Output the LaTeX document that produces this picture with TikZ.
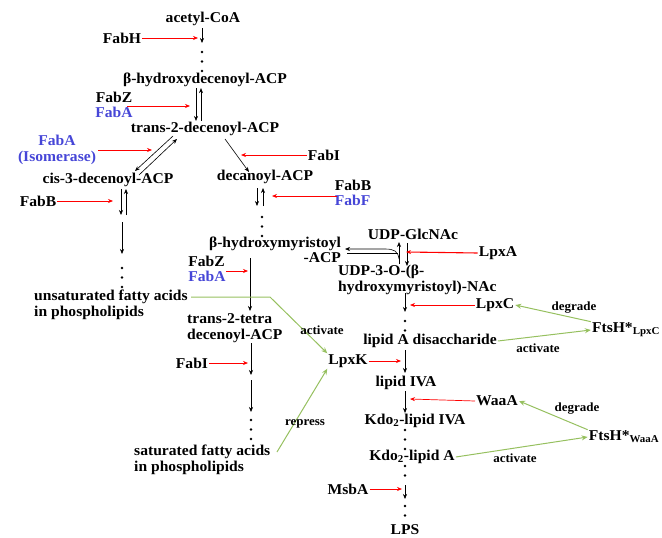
\documentclass[tikz,border=0pt]{standalone}
\usepackage{fontspec}
\setmainfont[FakeStretch=1.04]{Liberation Serif}
\usetikzlibrary{arrows.meta}

\definecolor{enzblue}{RGB}{70,70,215}
\definecolor{regreen}{RGB}{150,192,95}

\tikzstyle{met} = [font=\bfseries\fontsize{15}{15.5}\selectfont, inner sep=1pt]
\tikzstyle{blu} = [met, text=enzblue]
\tikzstyle{lab} = [font=\bfseries\fontsize{12.5}{13}\selectfont, inner sep=1pt]
\tikzstyle{flow} = [-{Stealth[length=5pt,width=4pt]}, line width=0.6pt]
\tikzstyle{cat} = [-{Stealth[length=5pt,width=4pt]}, red, line width=0.7pt]
\tikzstyle{reg} = [-{Stealth[length=6pt,width=5pt]}, regreen, line width=1pt]
\tikzstyle{dots} = [line width=2.6pt, line cap=round, dash pattern=on 0pt off 9.5pt]

\begin{document}
\begin{tikzpicture}[x=1pt,y=-1pt]
\useasboundingbox (0,0) rectangle (662,538);

% metabolites
\node[met] (acoa) at (203,19) {acetyl-CoA};
\node[met] (hdec) at (205,80) {β-hydroxydecenoyl-ACP};
\node[met] (t2dec) at (205,129) {trans-2-decenoyl-ACP};
\node[met] (c3dec) at (108,180) {cis-3-decenoyl-ACP};
\node[met] (decan) at (265,177) {decanoyl-ACP};
\node[met, align=right] (hmyr) at (275,250) {β-hydroxymyristoyl\\-ACP};
\node[met, align=left, anchor=west] (ufa) at (33,305) {unsaturated fatty acids\\in phospholipids};
\node[met, align=left, anchor=west] (t2tet) at (186,328) {trans-2-tetra\\decenoyl-ACP};
\node[met, align=left, anchor=west] (sfa) at (133,460) {saturated fatty acids\\in phospholipids};
\node[met] (udp) at (413,234) {UDP-GlcNAc};
\node[met, align=left, anchor=west] (udp3) at (337,280) {UDP-3-O-(β-\\hydroxymyristoyl)-NAc};
\node[met] (lad) at (430,341) {lipid A disaccharide};
\node[met] (liva) at (406,383) {lipid IVA};
\node[met] (kiva) at (415,421) {Kdo\textsubscript{2}-lipid IVA};
\node[met] (kla) at (412,457) {Kdo\textsubscript{2}-lipid A};
\node[met] (lps) at (405,530) {LPS};

% enzymes
\node[met] (fabh) at (122,38) {FabH};
\node[met, align=center] (fabza) at (114,105) {FabZ\\\textcolor{enzblue}{FabA}};
\node[blu, align=center] (fabai) at (57,150) {FabA\\(Isomerase)};
\node[met] (fabi) at (324,155) {FabI};
\node[met] (fabb) at (38,201) {FabB};
\node[met, align=left] (fabbf) at (353,193) {FabB\\\textcolor{enzblue}{FabF}};
\node[met, align=left] (fabzb) at (207,269) {FabZ\\\textcolor{enzblue}{FabA}};
\node[met] (fabit) at (192,363) {FabI};
\node[met] (lpxa) at (498,253) {LpxA};
\node[met] (lpxc) at (495,305) {LpxC};
\node[met] (lpxk) at (348,361) {LpxK};
\node[met] (waaa) at (497,401) {WaaA};
\node[met] (msba) at (348,489) {MsbA};
\node[met] (ftsc) at (626,330) {FtsH*\textsubscript{LpxC}};
\node[met] (ftsw) at (624,437) {FtsH*\textsubscript{WaaA}};

% fatty acid route
\draw[flow] (202,28) -- (202,43);
\draw[dots] (202,52) -- (202,74);
\draw[cat] (fabh.east) -- (198,38);
\draw[flow] ([xshift=-9pt]hdec.south) -- ([xshift=-9pt]t2dec.north);
\draw[flow] ([xshift=-4pt]t2dec.north) -- ([xshift=-4pt]hdec.south);
\draw[cat] (127,106) -- (190,106);
\draw[flow] (173,136) -- (135,171);
\draw[flow] (139,175) -- (177,139);
\draw[cat] (98,150) -- (152,150);
\draw[flow] (225,139) -- (249,172);
\draw[cat] (fabi.west) -- (241,155);
\draw[flow] (121,189) -- (121,215);
\draw[flow] (126,215) -- (126,189);
\draw[cat] (fabb.east) -- (113,201);
\draw[flow] (122,222) -- (122,254);
\draw[dots] (122,268) -- (122,290);
\draw[flow] (257,188) -- (257,206);
\draw[flow] (263,206) -- (263,188);
\draw[cat] (337,196) -- (272,196);
\draw[dots] (262,217) -- (262,238);
\draw[flow] (250,258) -- (250,311);
\draw[cat] (226,271) -- (248,271);
\draw[flow] (251,343) -- (251,375);
\draw[cat] (fabit.east) -- (248,363);
\draw[flow] (251,380) -- (251,412);
\draw[dots] (251,420) -- (251,440);

% lipid A route
\draw[flow] (399,264) -- (399,242);
\draw[flow] (407,243) -- (407,266);
\draw[flow] (399,259) .. controls (398,251) and (394,249) .. (385,249) -- (345,249);
\draw[line width=0.6pt] (347,253) -- (398,253);
\draw[cat, line width=1.1pt] (lpxa.west) -- (406,252);
\draw[flow] (405,293) -- (405,312);
\draw[dots] (405,321) -- (405,340);
\draw[cat] (lpxc.west) -- (410,305);
\draw[flow] (405,350) -- (405,373);
\draw[cat] (lpxk.east) -- (401,361);
\draw[flow] (405,391) -- (405,413);
\draw[cat] (waaa.west) -- (410,399);
\draw[dots] (405,430) -- (405,450);
\draw[dots] (405,466) -- (405,482);
\draw[flow] (405,485) -- (405,499);
\draw[cat] (msba.east) -- (402,489);
\draw[dots] (405,506) -- (405,521);

% regulation
\draw[reg] (191,297) -- (270,297) -- (lpxk.north west);
\node[lab] (act1) at (322,330) {activate};
\draw[reg] (277,452) -- (lpxk.south west);
\node[lab] (rep) at (305,424) {repress};
\draw[reg] (ftsc.north west) -- (lpxc.east);
\node[lab] (deg1) at (574,308) {degrade};
\draw[reg] (lad.east) -- (ftsc.west);
\node[lab] (act2) at (538,348) {activate};
\draw[reg] (ftsw.north west) -- (waaa.east);
\node[lab] (deg2) at (577,409) {degrade};
\draw[reg] (kla.east) -- (ftsw.west);
\node[lab] (act3) at (515,458) {activate};
\end{tikzpicture}
\end{document}
